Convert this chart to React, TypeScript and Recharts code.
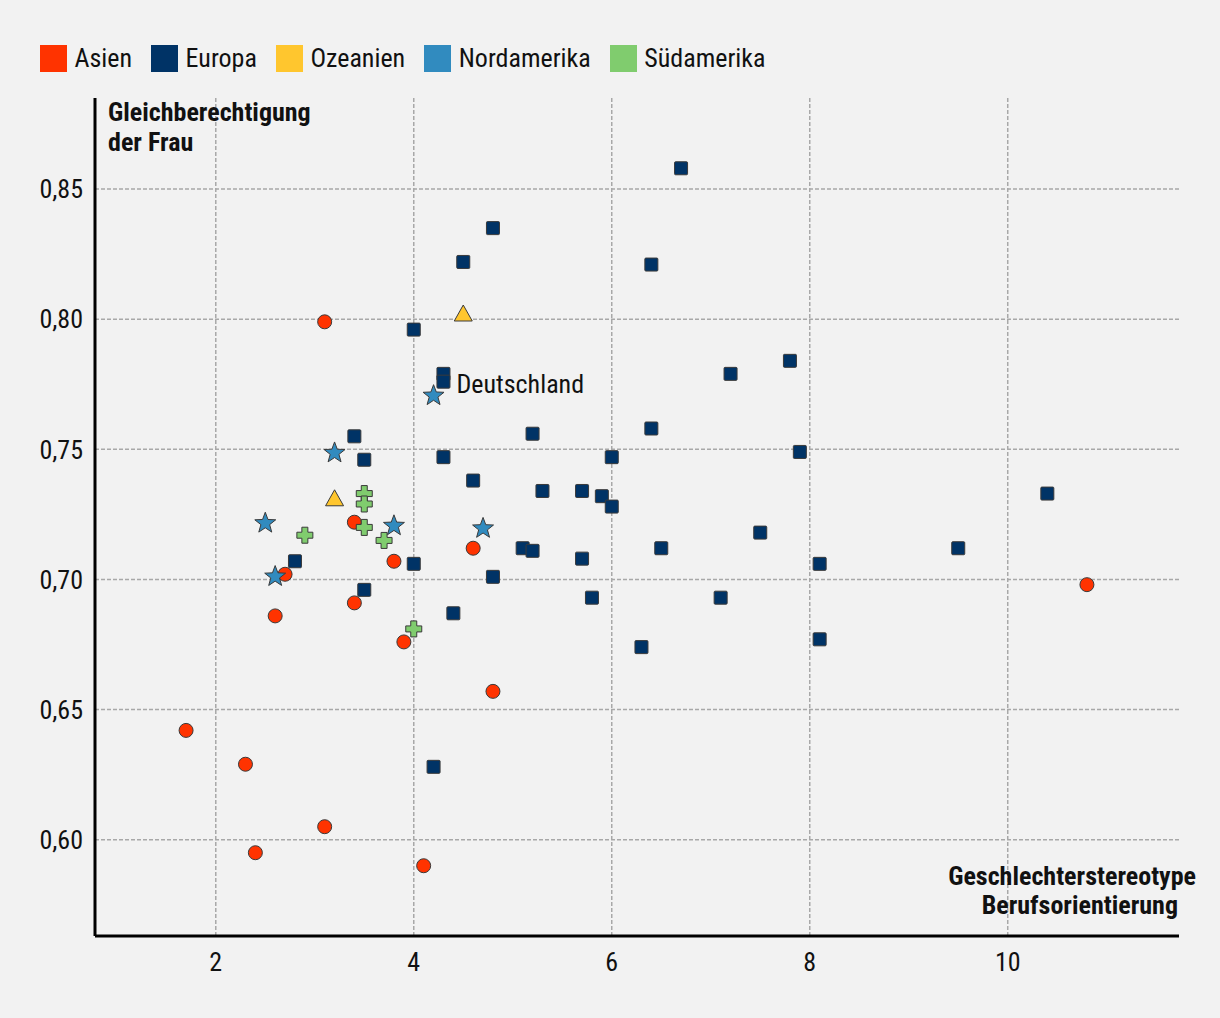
import React from 'react';
import { ScatterChart, Scatter, XAxis, YAxis, CartesianGrid } from 'recharts';

const FONT = "'Roboto Condensed', 'Liberation Sans Narrow', 'DejaVu Sans Condensed', Roboto, sans-serif";

// Länderwerte: x = Geschlechterstereotype Berufsorientierung, y = Gleichberechtigung der Frau
const asien = [
  { x: 3.1, y: 0.799 }, { x: 3.4, y: 0.722 }, { x: 3.8, y: 0.707 }, { x: 2.7, y: 0.702 },
  { x: 2.6, y: 0.686 }, { x: 3.4, y: 0.691 }, { x: 3.9, y: 0.676 }, { x: 4.6, y: 0.712 },
  { x: 4.8, y: 0.657 }, { x: 1.7, y: 0.642 }, { x: 2.3, y: 0.629 }, { x: 3.1, y: 0.605 },
  { x: 2.4, y: 0.595 }, { x: 4.1, y: 0.590 }, { x: 10.8, y: 0.698 },
];

const europa = [
  { x: 6.7, y: 0.858 }, { x: 4.8, y: 0.835 }, { x: 4.5, y: 0.822 }, { x: 6.4, y: 0.821 },
  { x: 4.0, y: 0.796 }, { x: 4.3, y: 0.779 }, { x: 4.3, y: 0.776, label: 'Deutschland' },
  { x: 7.2, y: 0.779 }, { x: 7.8, y: 0.784 }, { x: 3.4, y: 0.755 }, { x: 3.5, y: 0.746 },
  { x: 4.3, y: 0.747 }, { x: 5.2, y: 0.756 }, { x: 6.4, y: 0.758 }, { x: 6.0, y: 0.747 },
  { x: 7.9, y: 0.749 }, { x: 4.6, y: 0.738 }, { x: 5.3, y: 0.734 }, { x: 5.7, y: 0.734 },
  { x: 5.9, y: 0.732 }, { x: 6.0, y: 0.728 }, { x: 10.4, y: 0.733 }, { x: 5.1, y: 0.712 },
  { x: 5.2, y: 0.711 }, { x: 6.5, y: 0.712 }, { x: 5.7, y: 0.708 }, { x: 7.5, y: 0.718 },
  { x: 9.5, y: 0.712 }, { x: 8.1, y: 0.706 }, { x: 2.8, y: 0.707 }, { x: 4.0, y: 0.706 },
  { x: 4.8, y: 0.701 }, { x: 3.5, y: 0.696 }, { x: 5.8, y: 0.693 }, { x: 7.1, y: 0.693 },
  { x: 4.4, y: 0.687 }, { x: 8.1, y: 0.677 }, { x: 6.3, y: 0.674 }, { x: 4.2, y: 0.628 },
];

const ozeanien = [{ x: 4.5, y: 0.802 }, { x: 3.2, y: 0.731 }];

const nordamerika = [
  { x: 4.2, y: 0.771 }, { x: 3.2, y: 0.749 }, { x: 2.5, y: 0.722 },
  { x: 3.8, y: 0.721 }, { x: 4.7, y: 0.720 }, { x: 2.6, y: 0.7015 },
];

const suedamerika = [
  { x: 3.5, y: 0.733 }, { x: 3.5, y: 0.729 }, { x: 3.5, y: 0.720 },
  { x: 2.9, y: 0.717 }, { x: 3.7, y: 0.715 }, { x: 4.0, y: 0.681 },
];

const xTicks = [2, 4, 6, 8, 10];
const yTicks = [0.6, 0.65, 0.7, 0.75, 0.8, 0.85];

const COLORS = {
  asien: '#ff3300',
  europa: '#003366',
  ozeanien: '#ffc62e',
  nordamerika: '#318bbf',
  suedamerika: '#80cc6e',
};

const legendItems = [
  { name: 'Asien', color: COLORS.asien },
  { name: 'Europa', color: COLORS.europa },
  { name: 'Ozeanien', color: COLORS.ozeanien },
  { name: 'Nordamerika', color: COLORS.nordamerika },
  { name: 'Südamerika', color: COLORS.suedamerika },
];

const OUTLINE = '#3a3a3a';

const CircleShape = (props: any) => (
  <circle cx={props.cx} cy={props.cy} r={7} fill={COLORS.asien} stroke={OUTLINE} strokeWidth={1} />
);

const SquareShape = (props: any) => {
  const { cx, cy, payload } = props;
  return (
    <g>
      <rect x={cx - 6.5} y={cy - 6.5} width={13} height={13} rx={1} fill={COLORS.europa} stroke={OUTLINE} strokeWidth={1} />
      {payload && payload.label ? (
        <text x={cx + 13} y={cy + 4} dominantBaseline="middle" fontFamily={FONT} fontSize={26} fill="#111">
          {payload.label}
        </text>
      ) : null}
    </g>
  );
};

const TriangleShape = (props: any) => {
  const { cx, cy } = props;
  const pts = `${cx},${cy - 9} ${cx + 9},${cy + 7} ${cx - 9},${cy + 7}`;
  return <polygon points={pts} fill={COLORS.ozeanien} stroke={OUTLINE} strokeWidth={1} strokeLinejoin="round" />;
};

const StarShape = (props: any) => {
  const { cx, cy } = props;
  const pts: string[] = [];
  for (let i = 0; i < 10; i++) {
    const r = i % 2 === 0 ? 11 : 4.6;
    const a = -Math.PI / 2 + (i * Math.PI) / 5;
    pts.push(`${cx + r * Math.cos(a)},${cy + 1 + r * Math.sin(a)}`);
  }
  return <polygon points={pts.join(' ')} fill={COLORS.nordamerika} stroke={OUTLINE} strokeWidth={1} strokeLinejoin="round" />;
};

const CrossShape = (props: any) => {
  const { cx, cy } = props;
  const a = 3, b = 8;
  const d = `M${cx - a},${cy - b} H${cx + a} V${cy - a} H${cx + b} V${cy + a} H${cx + a} V${cy + b} H${cx - a} V${cy + a} H${cx - b} V${cy - a} H${cx - a} Z`;
  return <path d={d} fill={COLORS.suedamerika} stroke={OUTLINE} strokeWidth={1} strokeLinejoin="round" />;
};

const fmtY = (v: number) => v.toFixed(2).replace('.', ',');

export default function App() {
  return (
    <div style={{ position: 'absolute', left: 0, top: 0, width: 1220, height: 1018, background: '#f2f2f2', fontFamily: FONT, overflow: 'hidden' }}>
      {/* Legende */}
      <div style={{ position: 'absolute', left: 40, top: 45, display: 'flex', alignItems: 'center', height: 27 }}>
        {legendItems.map((item) => (
          <div key={item.name} style={{ display: 'flex', alignItems: 'center', marginRight: 19 }}>
            <div style={{ width: 27, height: 27, background: item.color, marginRight: 7.5 }} />
            <span style={{ fontSize: 26, color: '#111', lineHeight: '27px' }}>{item.name}</span>
          </div>
        ))}
      </div>

      <ScatterChart width={1220} height={1018} margin={{ top: 98, right: 41, bottom: 0, left: 0 }}>
        <CartesianGrid
          stroke="#a8a8a8"
          strokeWidth={1.5}
          strokeDasharray="4 2"
          horizontalValues={yTicks}
          verticalValues={xTicks}
        />
        <XAxis
          type="number"
          dataKey="x"
          domain={[0.78, 11.73]}
          ticks={xTicks}
          allowDataOverflow
          height={82}
          axisLine={{ stroke: '#000', strokeWidth: 3 }}
          tickLine={false}
          tickSize={15}
          tickMargin={2}
          tick={{ fill: '#111', fontSize: 26, fontFamily: FONT }}
        />
        <YAxis
          type="number"
          dataKey="y"
          domain={[0.563, 0.885]}
          ticks={yTicks}
          allowDataOverflow
          width={95}
          axisLine={{ stroke: '#000', strokeWidth: 3 }}
          tickLine={false}
          tickSize={10}
          tickMargin={2}
          tickFormatter={fmtY}
          tick={{ fill: '#111', fontSize: 26, fontFamily: FONT }}
        />
        <Scatter name="Europa" data={europa} shape={SquareShape} isAnimationActive={false} />
        <Scatter name="Asien" data={asien} shape={CircleShape} isAnimationActive={false} />
        <Scatter name="Ozeanien" data={ozeanien} shape={TriangleShape} isAnimationActive={false} />
        <Scatter name="Südamerika" data={suedamerika} shape={CrossShape} isAnimationActive={false} />
        <Scatter name="Nordamerika" data={nordamerika} shape={StarShape} isAnimationActive={false} />
      </ScatterChart>

      {/* Achsentitel */}
      <div style={{ position: 'absolute', left: 108, top: 97, fontSize: 26, fontWeight: 700, lineHeight: '30px', color: '#111' }}>
        Gleichberechtigung<br />der Frau
      </div>
      <div style={{ position: 'absolute', right: 24, top: 862, fontSize: 26, fontWeight: 700, lineHeight: '29px', color: '#111', textAlign: 'right' }}>
        Geschlechterstereotype
        <div style={{ marginRight: 18 }}>Berufsorientierung</div>
      </div>
    </div>
  );
}
